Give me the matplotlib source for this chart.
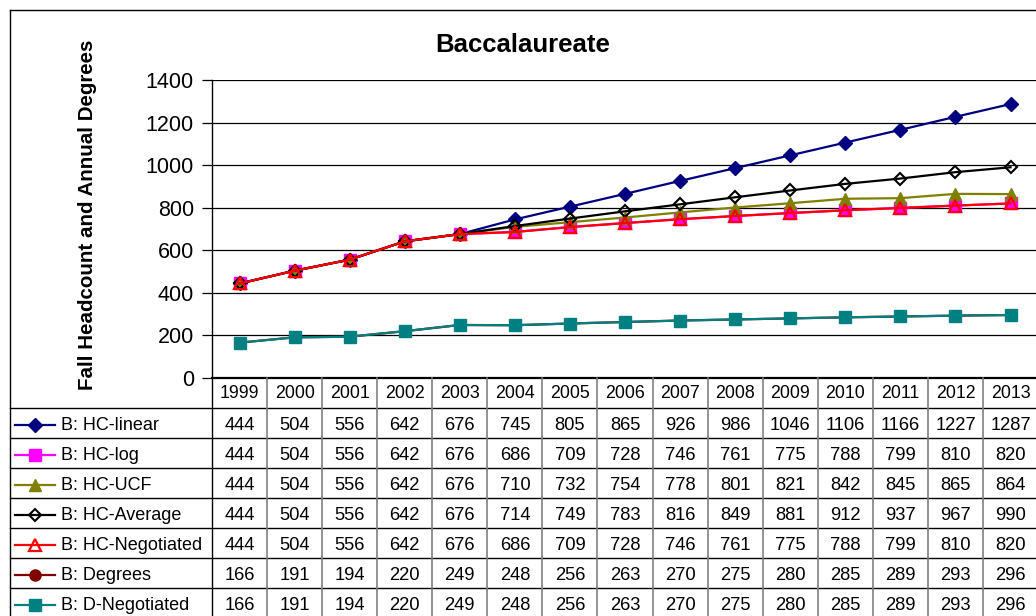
import matplotlib
matplotlib.use("Agg")
import matplotlib.pyplot as plt
from matplotlib.lines import Line2D

plt.rcParams["font.family"] = ["Liberation Sans", "DejaVu Sans"]

years = [1999, 2000, 2001, 2002, 2003, 2004, 2005, 2006, 2007, 2008,
         2009, 2010, 2011, 2012, 2013]
hc_linear = [444, 504, 556, 642, 676, 745, 805, 865, 926, 986, 1046, 1106, 1166, 1227, 1287]
hc_log = [444, 504, 556, 642, 676, 686, 709, 728, 746, 761, 775, 788, 799, 810, 820]
hc_ucf = [444, 504, 556, 642, 676, 710, 732, 754, 778, 801, 821, 842, 845, 865, 864]
hc_average = [444, 504, 556, 642, 676, 714, 749, 783, 816, 849, 881, 912, 937, 967, 990]
hc_negotiated = [444, 504, 556, 642, 676, 686, 709, 728, 746, 761, 775, 788, 799, 810, 820]
degrees = [166, 191, 194, 220, 249, 248, 256, 263, 270, 275, 280, 285, 289, 293, 296]
d_negotiated = [166, 191, 194, 220, 249, 248, 256, 263, 270, 275, 280, 285, 289, 293, 296]

series = [
    ("B: HC-linear", hc_linear, dict(color="#000080", marker="D", mfc="#000080", mec="#000080", ms=7)),
    ("B: HC-log", hc_log, dict(color="#FF00FF", marker="s", mfc="#FF00FF", mec="#FF00FF", ms=8)),
    ("B: HC-UCF", hc_ucf, dict(color="#808000", marker="^", mfc="#808000", mec="#808000", ms=9)),
    ("B: HC-Average", hc_average, dict(color="#000000", marker="D", mfc="none", mec="#000000", ms=6.5, mew=1.5)),
    ("B: HC-Negotiated", hc_negotiated, dict(color="#FF0000", marker="^", mfc="none", mec="#FF0000", ms=8, mew=1.6)),
    ("B: Degrees", degrees, dict(color="#800000", marker="o", mfc="#800000", mec="#800000", ms=8)),
    ("B: D-Negotiated", d_negotiated, dict(color="#008080", marker="s", mfc="#008080", mec="#008080", ms=9)),
]

W, H = 1036, 616
fig = plt.figure(figsize=(W / 100, H / 100), dpi=100)
fig.patch.set_facecolor("white")

# pixel layout
x0, cw = 212, 55.07           # first year column left edge, column width
x_right = x0 + cw * len(years)
y_top, y_zero = 80, 378       # 1400 and 0 on the value axis
row_h = 30
left_edge = 10

ax = fig.add_axes([x0 / W, 1 - y_zero / H, (x_right - x0) / W, (y_zero - y_top) / H])
ax.set_xlim(-0.5, len(years) - 0.5)
ax.set_ylim(0, 1400)
ax.set_yticks(range(0, 1401, 200))
ax.set_xticks([])
ax.grid(axis="y", color="#000000", lw=0.9)
ax.set_axisbelow(True)
for s in ("top", "right", "bottom"):
    ax.spines[s].set_visible(False)
ax.spines["left"].set_linewidth(1.0)
ax.tick_params(axis="y", direction="out", length=7, width=0.9, labelsize=15.5, pad=6)
ax.patch.set_alpha(0)

xs = list(range(len(years)))
for i, (name, vals, st) in enumerate(series):
    ax.plot(xs, vals, lw=1.6, zorder=3 + i, clip_on=False, **st)

# overlay in pixel coordinates for frame, title, label and data table
ov = fig.add_axes([0, 0, 1, 1], zorder=-1)
ov.set_xlim(0, W)
ov.set_ylim(H, 0)
ov.axis("off")

ov.plot([left_edge, W], [left_edge, left_edge], color="black", lw=1.0)
ov.plot([left_edge, left_edge], [left_edge, H], color="black", lw=1.0)

fig.text(523 / W, 1 - 45 / H, "Baccalaureate", ha="center", va="center",
         fontsize=18.5, fontweight="bold")
fig.text(88 / W, 1 - 215 / H, "Fall Headcount and Annual Degrees", ha="center",
         va="center", rotation=90, fontsize=14.8, fontweight="bold")

# table grid
n_rows = len(series)
y_bottom = y_zero + row_h * (n_rows + 1)
ov.plot([x0, W], [y_zero, y_zero], color="black", lw=1.6)
for r in range(1, n_rows + 1):
    y = y_zero + r * row_h
    ov.plot([left_edge, W], [y, y], color="black", lw=1.0)
ov.plot([x0, x0], [y_zero, y_bottom], color="black", lw=1.0)
for c in range(1, len(years) + 1):
    x = x0 + c * cw
    ov.plot([x, x], [y_zero, y_bottom], color="#808080", lw=1.2)

# header
for c, yr in enumerate(years):
    ov.text(x0 + (c + 0.5) * cw, y_zero + row_h / 2 + 1, str(yr), ha="center",
            va="center", fontsize=12.8)

# rows with legend keys
for r, (name, vals, st) in enumerate(series):
    yc = y_zero + (r + 1.5) * row_h
    ov.add_line(Line2D([15, 55], [yc + 2, yc + 2], color=st["color"], lw=1.6))
    mk = {k: v for k, v in st.items() if k != "color"}
    ov.add_line(Line2D([35], [yc + 2], **mk))
    ov.text(61, yc + 3, name, ha="left", va="center", fontsize=13)
    for c, v in enumerate(vals):
        ov.text(x0 + (c + 0.5) * cw, yc + 3, str(v), ha="center", va="center",
                fontsize=13.2)

fig.savefig("out.png", dpi=100)
